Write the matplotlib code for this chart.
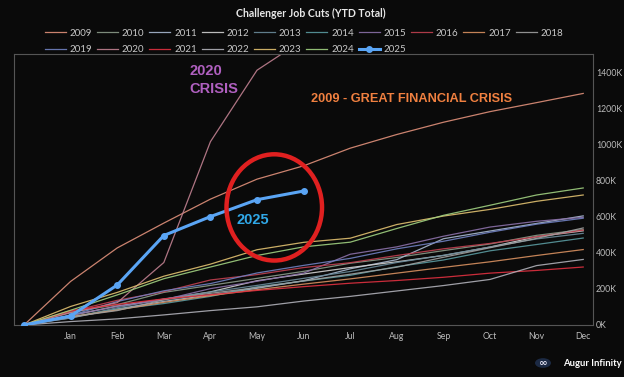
import matplotlib
matplotlib.use("Agg")
import matplotlib.pyplot as plt
from matplotlib.patches import Ellipse, Circle

plt.rcParams['font.family'] = ['Lato', 'DejaVu Sans']

months = ["", "Jan", "Feb", "Mar", "Apr", "May", "Jun", "Jul", "Aug", "Sep", "Oct", "Nov", "Dec"]
years = [str(y) for y in range(2009, 2026)]

# Cumulative YTD job cuts in thousands (start at 0 before Jan)
y2009 = [0, 242, 428, 566, 699, 810, 884, 982, 1058, 1126, 1185, 1235, 1286]
y2010 = [0, 71, 113, 181, 220, 259, 298, 343, 375, 413, 450, 498, 530]
y2011 = [0, 39, 89, 131, 167, 204, 246, 312, 363, 479, 522, 564, 606]
y2012 = [0, 53, 105, 143, 184, 246, 283, 319, 351, 386, 433, 490, 523]
y2013 = [0, 40, 96, 145, 183, 220, 259, 297, 347, 387, 433, 478, 509]
y2014 = [0, 45, 87, 119, 159, 212, 244, 276, 324, 361, 412, 447, 483]
y2015 = [0, 53, 104, 140, 202, 243, 288, 393, 434, 493, 544, 576, 598]
y2016 = [0, 75, 137, 185, 250, 280, 319, 346, 386, 423, 453, 490, 527]
y2017 = [0, 46, 83, 126, 163, 196, 227, 256, 288, 320, 351, 386, 419]
y2018 = [0, 45, 80, 140, 176, 208, 245, 282, 321, 376, 429, 481, 539]
y2019 = [0, 53, 130, 190, 230, 289, 331, 370, 423, 465, 515, 560, 593]
y2020 = [0, 68, 124, 347, 1018, 1415, 1585, 1848, 1963, 2082, 2162, 2226, 2305]
y2021 = [0, 80, 114, 145, 168, 192, 213, 232, 247, 265, 288, 303, 322]
y2022 = [0, 19, 34, 56, 80, 101, 133, 159, 189, 219, 253, 330, 364]
y2023 = [0, 103, 181, 271, 338, 418, 459, 482, 558, 605, 642, 687, 722]
y2024 = [0, 82, 167, 257, 322, 386, 434, 460, 536, 609, 665, 722, 761]
y2025 = [0, 50, 222, 497, 602, 696, 744]

series = [y2009, y2010, y2011, y2012, y2013, y2014, y2015, y2016, y2017,
          y2018, y2019, y2020, y2021, y2022, y2023, y2024, y2025]

colors = ["#e0907a", "#8a9a88", "#a8b8d0", "#d0d0d0", "#6a8a9a", "#5a9aa0",
          "#8a70a8", "#c04050", "#d89060", "#a0a0a0", "#7080c0", "#c08090",
          "#e03040", "#b0b0b8", "#e0c070", "#a0d080", "#5aa5f5"]

bg = "#0a0a0a"
fig = plt.figure(figsize=(6.24, 3.77), dpi=100, facecolor=bg)
ax = fig.add_axes([14/624, 1-325/377, (593-14)/624, (325-54)/377])
ax.set_facecolor(bg)

handles = []
for name, vals, c in zip(years, series, colors):
    x = list(range(len(vals)))
    if name == "2025":
        h, = ax.plot(x, vals, color=c, lw=2.2, marker="o", ms=4, zorder=5)
    else:
        h, = ax.plot(x, vals, color=c, lw=0.9, alpha=0.9, zorder=2)
    handles.append(h)

ax.set_xlim(-0.215, 12.21)
ax.set_ylim(0, 1505)
ax.set_xticks(range(1, 13))
ax.set_xticklabels(months[1:])
ax.yaxis.tick_right()
yt = [0, 200, 400, 600, 800, 1000, 1200, 1400]
ax.set_yticks(yt)
ax.set_yticklabels([f"{v}K" for v in yt])
ax.tick_params(colors="#bbbbbb", labelsize=6.3, length=0)
ax.tick_params(axis="x", pad=5)
ax.tick_params(axis="y", pad=2)
for s in ax.spines.values():
    s.set_color("#555555")
    s.set_linewidth(0.8)

# Annotations
ann = ['Liberation Sans', 'DejaVu Sans']
ax.text(3.55, 1410, "2020", color="#b060c0", fontsize=10.5, fontweight="bold",
        ha="left", va="center", family=ann)
ax.text(3.55, 1310, "CRISIS", color="#b060c0", fontsize=10.5, fontweight="bold",
        ha="left", va="center", family=ann)
ax.text(6.15, 1255, "2009 - GREAT FINANCIAL CRISIS", color="#f08040", fontsize=9.2,
        fontweight="bold", ha="left", va="center", family=ann)
ax.text(4.57, 585, "2025", color="#30a8e8", fontsize=10.5, fontweight="bold",
        ha="left", va="center", family=ann)
ax.add_patch(Ellipse((5.37, 653), 2.05, 590, fill=False, ec="#e02020", lw=3.2,
                     zorder=6, clip_on=False))

# Title
fig.text(311/624, 1-13/377, "Challenger Job Cuts (YTD Total)", color="#e8e8e8",
         fontsize=7.6, fontweight="bold", ha="center", va="center")

# Legend: reorder for row-major layout with 10 columns
order = []
for j in range(10):
    order.append(j)
    if j < 7:
        order.append(10 + j)
leg = fig.legend([handles[i] for i in order], [years[i] for i in order], ncol=10,
                 loc="center", bbox_to_anchor=(304/624, 1-41.5/377), frameon=False,
                 fontsize=7, labelcolor="#c8c8c8", handlelength=2.15,
                 columnspacing=0.5, handletextpad=0.4, labelspacing=0.75,
                 borderpad=0, borderaxespad=0)

# Logo
fig.patches.append(Circle((543/624, 1-363/377), 8/624, transform=fig.transFigure,
                          fc="#1c2a44", ec="none"))
fig.text(543/624, 1-363/377, "∞", color="#e0e0f0", fontsize=7.5, fontweight="bold",
         ha="center", va="center", family=['DejaVu Sans'])
fig.text(563/624, 1-363/377, "Augur Infinity", color="#ffffff", fontsize=6.8,
         fontweight="bold", ha="left", va="center")

fig.savefig("out.png", dpi=100, facecolor=bg)
